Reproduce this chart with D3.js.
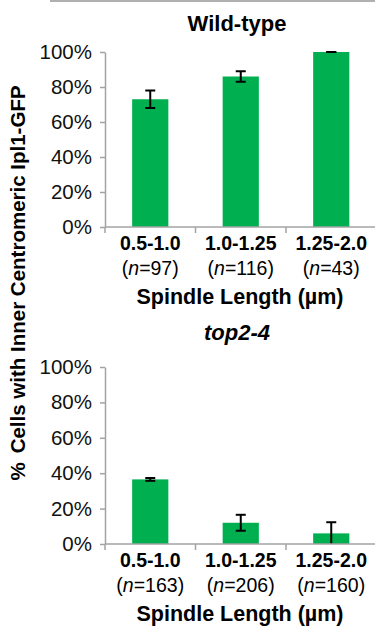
<!DOCTYPE html>
<html>
<head>
<meta charset="utf-8">
<script src="https://cdn.jsdelivr.net/npm/d3@7"></script>
<style>
  html, body { margin: 0; padding: 0; background: #fff; }
  svg { display: block; font-family: "Liberation Sans", Arial, sans-serif; }
</style>
</head>
<body>
<svg width="375" height="626"></svg>
<script>
// Data
var categories = ["0.5-1.0", "1.0-1.25", "1.25-2.0"];
var yTicks = [0, 20, 40, 60, 80, 100];

var wtValues = [73, 86, 100];
var wtErrors = [5, 3, 0];
var wtCounts = [97, 116, 43];

var topValues = [36.5, 12, 6];
var topErrors = [0.8, 4.5, 6.3];
var topCounts = [163, 206, 160];

var svg = d3.select("svg");
var axisColor = "#a3a3a3";
var green = "#00b050";

// thin rule at the very top
svg.append("line")
    .attr("x1", 50).attr("x2", 375)
    .attr("y1", 1).attr("y2", 1)
    .style("stroke", "#b0b0b0").style("stroke-width", 2);

// y axis label, shared by both panels
var yLab = svg.append("text")
    .attr("transform", "translate(25,283) rotate(-90)")
    .attr("text-anchor", "middle")
    .style("font-size", "20.5px")
    .style("font-weight", "bold");
yLab.append("tspan").text("%");
yLab.append("tspan").attr("dx", 9).text("Cells with Inner Centromeric Ipl1-GFP");

function drawPanel(opts) {
    var g = svg.append("g");

    var xScale = d3.scaleBand()
        .domain(categories)
        .range([105, 376.5])
        .paddingInner(0.6)
        .paddingOuter(0.3);

    var yScale = d3.scaleLinear().domain([0, 100]).range([opts.bottom, opts.top]);

    // title
    g.append("text")
        .attr("x", 237).attr("y", opts.titleY)
        .attr("text-anchor", "middle")
        .style("font-size", "22px")
        .style("font-weight", "bold")
        .style("font-style", opts.italic ? "italic" : "normal")
        .text(opts.title);

    // bars
    var data = categories.map(function (c, i) {
        return { cat: c, value: opts.values[i], err: opts.errors[i], n: opts.counts[i] };
    });

    g.selectAll("rect.bar").data(data).enter().append("rect")
        .attr("class", "bar")
        .attr("x", function (d) { return xScale(d.cat); })
        .attr("y", function (d) { return yScale(d.value); })
        .attr("width", xScale.bandwidth())
        .attr("height", function (d) { return yScale(0) - yScale(d.value); })
        .style("fill", green);

    // error bars
    var eb = g.selectAll("g.err").data(data).enter().append("g")
        .attr("class", "err")
        .attr("transform", function (d) {
            return "translate(" + (xScale(d.cat) + xScale.bandwidth() / 2) + ",0)";
        });
    eb.append("line")
        .attr("y1", function (d) { return yScale(Math.max(0, d.value - d.err)); })
        .attr("y2", function (d) { return yScale(d.value + d.err); })
        .style("stroke", "#000").style("stroke-width", 2);
    eb.append("line")
        .attr("x1", -5).attr("x2", 5)
        .attr("y1", function (d) { return yScale(d.value + d.err); })
        .attr("y2", function (d) { return yScale(d.value + d.err); })
        .style("stroke", "#000").style("stroke-width", 2);
    eb.filter(function (d) { return d.value - d.err > 0; }).append("line")
        .attr("x1", -5).attr("x2", 5)
        .attr("y1", function (d) { return yScale(d.value - d.err); })
        .attr("y2", function (d) { return yScale(d.value - d.err); })
        .style("stroke", "#000").style("stroke-width", 2);

    // y axis
    var yAxis = d3.axisLeft(yScale)
        .tickValues(yTicks)
        .tickSize(5)
        .tickPadding(8)
        .tickSizeOuter(0)
        .tickFormat(function (d) { return d + "%"; });
    var ya = g.append("g").attr("transform", "translate(105,0)").call(yAxis);
    ya.select(".domain").style("stroke", axisColor).style("stroke-width", 1.5);
    ya.selectAll(".tick line").style("stroke", axisColor).style("stroke-width", 1.5);
    ya.selectAll(".tick text")
        .style("font-family", "Liberation Sans, Arial, sans-serif")
        .style("font-size", "20.5px")
        .style("fill", "#111");

    // x axis line with ticks at band boundaries
    var step = xScale.step();
    var x0 = xScale.range()[0];
    g.append("line")
        .attr("x1", x0).attr("x2", 375)
        .attr("y1", yScale(0)).attr("y2", yScale(0))
        .style("stroke", axisColor).style("stroke-width", 1.5);
    g.selectAll("line.xtick").data(d3.range(categories.length)).enter().append("line")
        .attr("class", "xtick")
        .attr("x1", function (i) { return x0 + i * step; })
        .attr("x2", function (i) { return x0 + i * step; })
        .attr("y1", yScale(0)).attr("y2", yScale(0) + 6)
        .style("stroke", axisColor).style("stroke-width", 1.5);

    // category labels
    var cx = function (d) { return xScale(d.cat) + xScale.bandwidth() / 2; };
    g.selectAll("text.cat").data(data).enter().append("text")
        .attr("class", "cat")
        .attr("x", cx)
        .attr("y", yScale(0) + 22.5)
        .attr("text-anchor", "middle")
        .style("font-size", "19.5px")
        .style("font-weight", "bold")
        .text(function (d) { return d.cat; });

    var nt = g.selectAll("text.n").data(data).enter().append("text")
        .attr("class", "n")
        .attr("x", cx)
        .attr("y", yScale(0) + 47.5)
        .attr("text-anchor", "middle")
        .style("font-size", "19.5px");
    nt.append("tspan").text("(");
    nt.append("tspan").style("font-style", "italic").text("n");
    nt.append("tspan").text(function (d) { return "=" + d.n + ")"; });

    // x axis title
    g.append("text")
        .attr("x", 240).attr("y", yScale(0) + 76.5)
        .attr("text-anchor", "middle")
        .style("font-size", "21.5px")
        .style("font-weight", "bold")
        .text("Spindle Length (\u00b5m)");
}

drawPanel({ title: "Wild-type", italic: false, titleY: 31, top: 52, bottom: 227,
            values: wtValues, errors: wtErrors, counts: wtCounts });
drawPanel({ title: "top2-4", italic: true, titleY: 340, top: 367, bottom: 544,
            values: topValues, errors: topErrors, counts: topCounts });
</script>
</body>
</html>
